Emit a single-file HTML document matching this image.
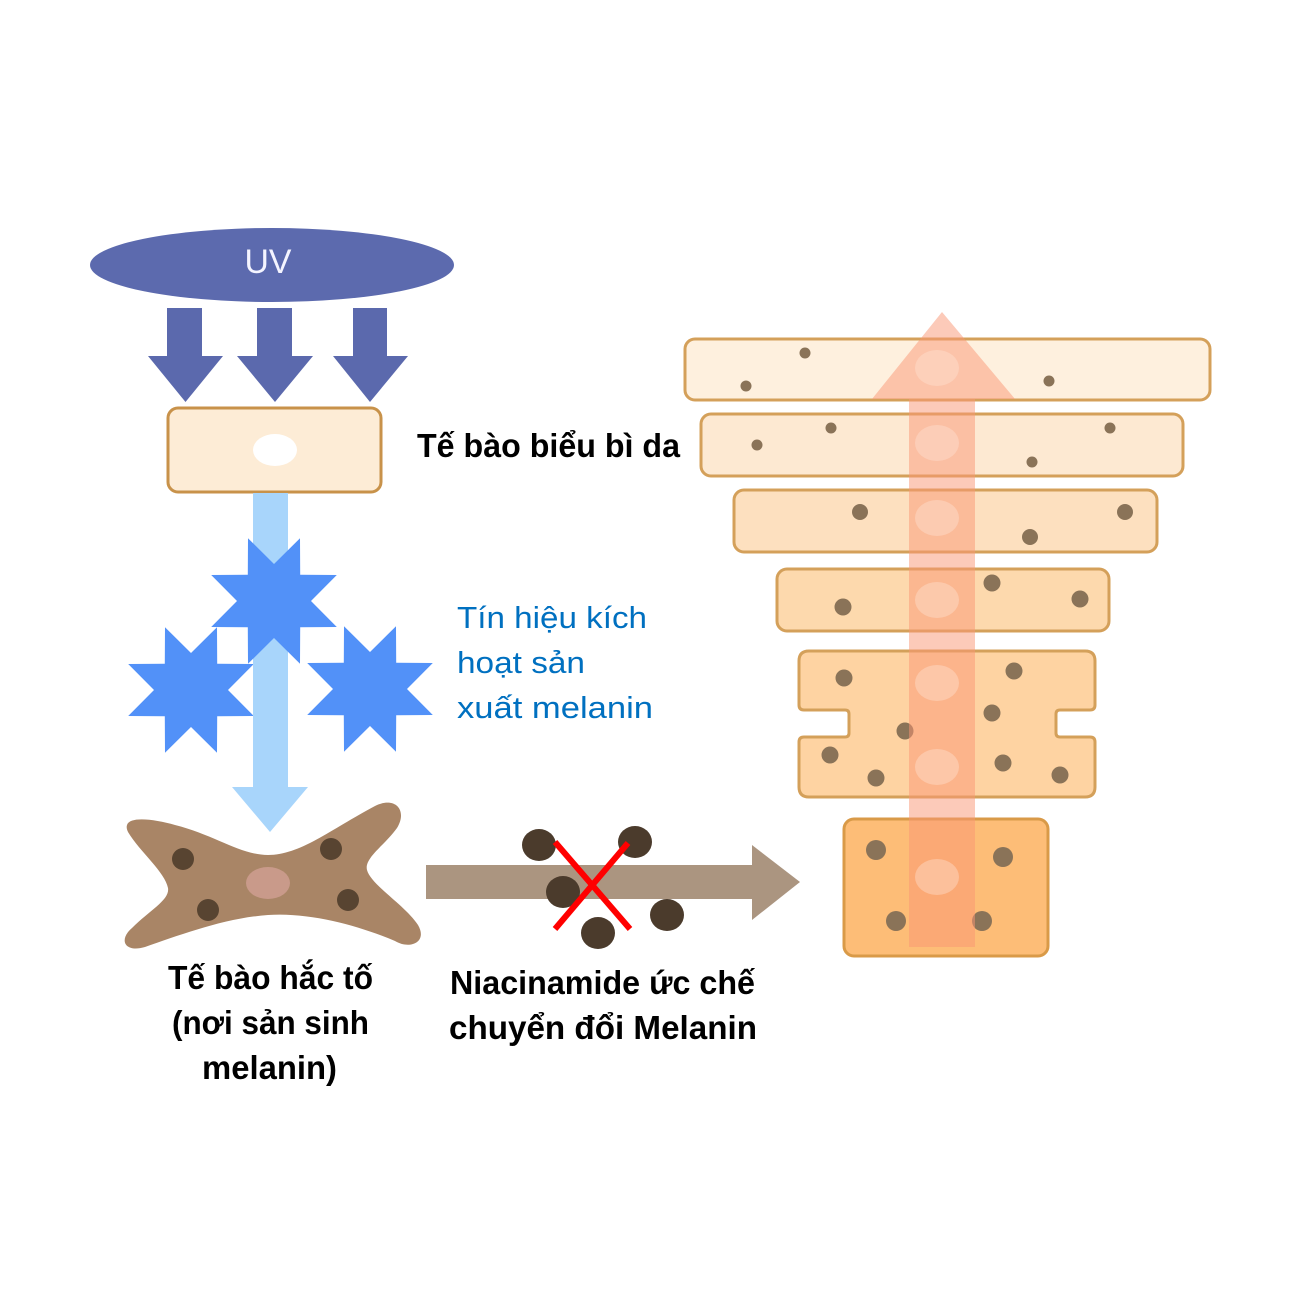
<!DOCTYPE html>
<html>
<head>
<meta charset="utf-8">
<style>
  html,body{margin:0;padding:0;background:#ffffff;}
  svg{display:block;}
  .b{font-family:"Liberation Sans","DejaVu Sans",sans-serif;font-weight:bold;fill:#000;}
  .n{font-family:"Liberation Sans","DejaVu Sans",sans-serif;font-weight:normal;}
</style>
</head>
<body>
<svg width="1294" height="1294" viewBox="0 0 1294 1294" xmlns="http://www.w3.org/2000/svg">
  <rect x="0" y="0" width="1294" height="1294" fill="#ffffff"/>

  <!-- UV ellipse -->
  <ellipse cx="272" cy="265" rx="182" ry="37" fill="#5c6aae"/>
  <text x="268" y="273" class="n" font-size="34" fill="#f4f4ff" text-anchor="middle" textLength="47" lengthAdjust="spacingAndGlyphs">UV</text>

  <!-- UV down arrows -->
  <g fill="#5b69ad">
    <rect x="167" y="308" width="35" height="50"/>
    <polygon points="148,356 223,356 185.5,402"/>
    <rect x="257" y="308" width="35" height="50"/>
    <polygon points="237,356 313,356 275,402"/>
    <rect x="353" y="308" width="34" height="50"/>
    <polygon points="333,356 408,356 370,402"/>
  </g>

  <!-- epidermal cell (left) -->
  <rect x="168" y="408" width="213" height="84" rx="10" ry="10" fill="#fdecd6" stroke="#c8924a" stroke-width="3"/>
  <ellipse cx="275" cy="450" rx="22" ry="16" fill="#ffffff"/>

  <!-- light blue arrow -->
  <g fill="#a8d5fb">
    <rect x="253" y="493" width="35" height="297"/>
    <polygon points="232,787 308,787 270,832"/>
  </g>

  <!-- stars -->
  <g fill="#5291f8">
    <polygon transform="translate(191,690)" points="0,-37 26,-62.8 26.2,-26.2 62.8,-26 37,0 62.8,26 26.2,26.2 26,62.8 0,37 -26,62.8 -26.2,26.2 -62.8,26 -37,0 -62.8,-26 -26.2,-26.2 -26,-62.8"/>
    <polygon transform="translate(370,689)" points="0,-37 26,-62.8 26.2,-26.2 62.8,-26 37,0 62.8,26 26.2,26.2 26,62.8 0,37 -26,62.8 -26.2,26.2 -62.8,26 -37,0 -62.8,-26 -26.2,-26.2 -26,-62.8"/>
  </g>
  <!-- shaft portion over side stars -->
  <rect x="253" y="640" width="35" height="150" fill="#a8d5fb"/>
  <polygon fill="#5291f8" transform="translate(274,601)" points="0,-37 26,-62.8 26.2,-26.2 62.8,-26 37,0 62.8,26 26.2,26.2 26,62.8 0,37 -26,62.8 -26.2,26.2 -62.8,26 -37,0 -62.8,-26 -26.2,-26.2 -26,-62.8"/>

  <!-- melanocyte -->
  <path d="M 128 832 C 120 815, 150 818, 175 825 C 215 835, 240 855, 268 855 C 300 855, 330 830, 375 806 C 395 796, 408 810, 397 828 C 385 845, 364 858, 367 870 C 371 885, 405 905, 418 925 C 428 942, 410 950, 395 941 C 360 926, 310 912, 268 915 C 225 918, 180 935, 145 947 C 125 953, 118 940, 132 928 C 150 910, 170 900, 168 888 C 165 872, 140 852, 128 832 Z" fill="#a98566"/>
  <ellipse cx="268" cy="883" rx="22" ry="16" fill="#c99a8a"/>
  <g fill="#584431">
    <circle cx="183" cy="859" r="11"/>
    <circle cx="208" cy="910" r="11"/>
    <circle cx="331" cy="849" r="11"/>
    <circle cx="348" cy="900" r="11"/>
  </g>

  <!-- brown horizontal arrow -->
  <g fill="#ab9580">
    <rect x="426" y="865" width="327" height="34"/>
    <polygon points="752,845 752,920 800,882"/>
  </g>
  <!-- melanin granules -->
  <g fill="#4b3b2c">
    <ellipse cx="539" cy="845" rx="17" ry="16"/>
    <ellipse cx="635" cy="842" rx="17" ry="16"/>
    <ellipse cx="563" cy="892" rx="17" ry="16"/>
    <ellipse cx="598" cy="933" rx="17" ry="16"/>
    <ellipse cx="667" cy="915" rx="17" ry="16"/>
  </g>
  <!-- red X -->
  <g stroke="#ff0000" stroke-width="6" stroke-linecap="butt">
    <line x1="555" y1="842" x2="630" y2="929"/>
    <line x1="628" y1="843" x2="555" y2="929"/>
  </g>

  <!-- right tower of cells -->
  <g stroke="#d4a05a" stroke-width="3">
    <rect x="685" y="339" width="525" height="61" rx="10" fill="#fef0de"/>
    <rect x="701" y="414" width="482" height="62" rx="10" fill="#fde9d2"/>
    <rect x="734" y="490" width="423" height="62" rx="10" fill="#fde0bf"/>
    <rect x="777" y="569" width="332" height="62" rx="10" fill="#fdd9ad"/>
    <path d="M 809 651 H 1085 Q 1095 651 1095 661 V 705 Q 1095 710 1090 710 H 1060 Q 1056 710 1056 714 V 733 Q 1056 737 1060 737 H 1090 Q 1095 737 1095 742 V 787 Q 1095 797 1085 797 H 809 Q 799 797 799 787 V 742 Q 799 737 804 737 H 845 Q 849 737 849 733 V 714 Q 849 710 845 710 H 804 Q 799 710 799 705 V 661 Q 799 651 809 651 Z" fill="#fed3a2"/>
    <rect x="844" y="819" width="204" height="137" rx="10" fill="#fdbd77" stroke="#d99a48"/>
  </g>
  <g fill="#8a7358">
    <circle cx="805" cy="353" r="5.5"/>
    <circle cx="746" cy="386" r="5.5"/>
    <circle cx="1049" cy="381" r="5.5"/>
    <circle cx="831" cy="428" r="5.5"/>
    <circle cx="757" cy="445" r="5.5"/>
    <circle cx="1110" cy="428" r="5.5"/>
    <circle cx="1032" cy="462" r="5.5"/>
    <circle cx="860" cy="512" r="8"/>
    <circle cx="1125" cy="512" r="8"/>
    <circle cx="1030" cy="537" r="8"/>
    <circle cx="843" cy="607" r="8.5"/>
    <circle cx="992" cy="583" r="8.5"/>
    <circle cx="1080" cy="599" r="8.5"/>
    <circle cx="844" cy="678" r="8.5"/>
    <circle cx="1014" cy="671" r="8.5"/>
    <circle cx="992" cy="713" r="8.5"/>
    <circle cx="905" cy="731" r="8.5"/>
    <circle cx="830" cy="755" r="8.5"/>
    <circle cx="876" cy="778" r="8.5"/>
    <circle cx="1003" cy="763" r="8.5"/>
    <circle cx="1060" cy="775" r="8.5"/>
    <circle cx="876" cy="850" r="10"/>
    <circle cx="1003" cy="857" r="10"/>
    <circle cx="896" cy="921" r="10"/>
    <circle cx="982" cy="921" r="10"/>
  </g>

  <!-- translucent up arrow -->
  <g fill="rgb(250,150,115)" fill-opacity="0.5">
    <polygon points="909,947 975,947 975,399 1015,399 942,312 872,399 909,399"/>
  </g>
  <g fill="rgb(255,228,212)" fill-opacity="0.4">
    <ellipse cx="937" cy="368" rx="22" ry="18"/>
    <ellipse cx="937" cy="443" rx="22" ry="18"/>
    <ellipse cx="937" cy="518" rx="22" ry="18"/>
    <ellipse cx="937" cy="600" rx="22" ry="18"/>
    <ellipse cx="937" cy="683" rx="22" ry="18"/>
    <ellipse cx="937" cy="767" rx="22" ry="18"/>
    <ellipse cx="937" cy="877" rx="22" ry="18"/>
  </g>

  <!-- labels -->
  <text x="417" y="457" class="b" font-size="33" textLength="263" lengthAdjust="spacingAndGlyphs">Tế bào biểu bì da</text>

  <g class="n" font-size="31" fill="#0070c0">
    <text x="457" y="628" textLength="190" lengthAdjust="spacingAndGlyphs">Tín hiệu kích</text>
    <text x="457" y="673" textLength="128" lengthAdjust="spacingAndGlyphs">hoạt sản</text>
    <text x="457" y="718" textLength="196" lengthAdjust="spacingAndGlyphs">xuất melanin</text>
  </g>

  <g class="b" font-size="33">
    <text x="168" y="989" textLength="205" lengthAdjust="spacingAndGlyphs">Tế bào hắc tố</text>
    <text x="172" y="1034" textLength="197" lengthAdjust="spacingAndGlyphs">(nơi sản sinh</text>
    <text x="202" y="1079" textLength="135" lengthAdjust="spacingAndGlyphs">melanin)</text>
    <text x="450" y="994" textLength="305" lengthAdjust="spacingAndGlyphs">Niacinamide ức chế</text>
    <text x="449" y="1039" textLength="308" lengthAdjust="spacingAndGlyphs">chuyển đổi Melanin</text>
  </g>
</svg>
</body>
</html>
